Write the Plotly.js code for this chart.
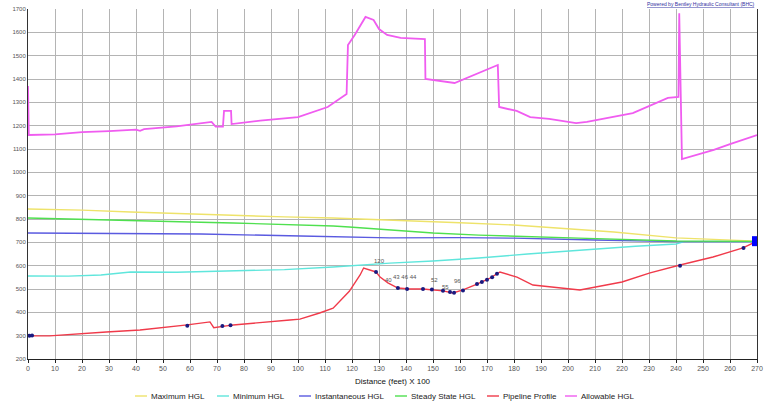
<!DOCTYPE html>
<html>
<head>
<meta charset="utf-8">
<script src="https://cdn.plot.ly/plotly-3.0.1.min.js"></script>
<style>html,body{margin:0;padding:0;background:#fff;}#chart{width:768px;height:404px;}</style>
</head>
<body>
<div id="chart"></div>
<script>
// Allowable HGL
const allowX = [0, 0.3, 10, 20, 30, 40, 41.5, 43, 55, 63, 68, 69.5, 72.2, 72.6, 75.2, 75.4, 86, 100, 111, 118, 118.5, 121, 125, 128, 130, 133, 138, 147, 147.2, 158, 174, 174.5, 181, 186, 193, 203, 207, 224, 230, 237, 240.9, 241.2, 242.2, 254, 260, 270];
const allowY = [1370, 1160, 1163, 1172, 1177, 1183, 1178, 1185, 1197, 1208, 1216, 1196, 1196, 1263, 1263, 1207, 1222, 1237, 1280, 1336, 1546, 1589, 1666, 1653, 1614, 1589, 1576, 1571, 1400, 1383, 1460, 1280, 1263, 1237, 1229, 1211, 1216, 1254, 1284, 1319, 1323, 1682, 1057, 1096, 1121, 1160];
// Maximum HGL
const maxX = [0, 20, 38, 60, 76, 95, 113, 134, 160, 180, 193, 217, 240, 270];
const maxY = [843, 838, 830, 822, 813, 809, 804, 796, 784, 774, 764, 744, 719, 705];
// Steady State HGL
const steadyX = [0, 20, 38, 60, 76, 95, 113, 119, 134, 150, 167, 193, 204, 240, 270];
const steadyY = [804, 798, 791, 787, 783, 777, 770, 766, 753, 740, 731, 720, 718, 706, 704];
// Instantaneous HGL
const instX = [0, 30, 64, 101, 134, 160, 180, 210, 240, 270];
const instY = [740, 739, 736, 727, 719, 720, 718, 710, 703, 703];
// Minimum HGL
const minX = [0, 15, 27, 38, 55, 76, 95, 113, 134, 150, 167, 185, 204, 225, 240, 243, 270];
const minY = [556, 555, 560, 573, 572, 577, 583, 594, 611, 620, 633, 650, 667, 683, 693, 703, 703];
// Pipeline Profile
const pipeX = [0, 8, 29, 41.5, 59, 67.4, 68.8, 72, 76, 97, 100.7, 108, 113, 119, 121, 123, 124.3, 128.9, 130.4, 133.3, 137, 141.5, 146.3, 149.6, 153.7, 157.4, 161.1, 166.3, 171.1, 174.8, 181.1, 187, 193.3, 204.4, 220, 230.4, 241.5, 253.7, 264.8, 268.5, 270];
const pipeY = [299, 299, 316, 324, 346, 359, 334, 340, 346, 367, 371, 397, 418, 490, 525, 560, 590, 573, 551, 526, 504, 500, 500, 496, 492, 483, 496, 521, 547, 573, 551, 517, 509, 496, 530, 569, 603, 637, 676, 697, 705];
// Junction nodes
const nodeX = [0.5, 1.5, 59, 72, 75, 128.9, 137, 140.4, 146.3, 149.6, 153.7, 156.3, 157.8, 161.1, 166.3, 168.1, 170, 171.9, 173.7, 241.5, 265];
const nodeY = [300, 301, 343, 341, 345, 573, 504, 500, 500, 498, 492, 487, 484, 494, 521, 530, 540, 550, 565, 600, 676];
const resX = [270];
const resY = [705];
const nodeLabels = ["120", "40", "43 46 44", "52", "55", "96"];
const nodeLabelX = [130, 133.5, 139.5, 150.7, 154.5, 159];
const nodeLabelY = [620, 540, 551, 539, 509, 534];

const xTicks = [0,10,20,30,40,50,60,70,80,90,100,110,120,130,140,150,160,170,180,190,200,210,220,230,240,250,260,270];
const yTicks = [200,300,400,500,600,700,800,900,1000,1100,1200,1300,1400,1500,1600,1700];

// Legend entries (drawn below the axis title)
const legendNames = ['Maximum HGL', 'Minimum HGL', 'Instantaneous HGL', 'Steady State HGL', 'Pipeline Profile', 'Allowable HGL'];
const legendColors = ['#eee36a', '#5fe6dc', '#5a5ae0', '#4fe04f', '#f03a4a', '#f05cf0'];
const legendSampleStart = [135, 217, 299, 395, 487, 565];

const lw = 1.4;
const traces = [
  {x: maxX, y: maxY, name: legendNames[0], mode: 'lines', line: {color: legendColors[0], width: lw}},
  {x: minX, y: minY, name: legendNames[1], mode: 'lines', line: {color: legendColors[1], width: lw}},
  {x: instX, y: instY, name: legendNames[2], mode: 'lines', line: {color: legendColors[2], width: lw}},
  {x: steadyX, y: steadyY, name: legendNames[3], mode: 'lines', line: {color: legendColors[3], width: lw}},
  {x: pipeX, y: pipeY, name: legendNames[4], mode: 'lines', line: {color: legendColors[4], width: lw}},
  {x: allowX, y: allowY, name: legendNames[5], mode: 'lines', line: {color: legendColors[5], width: 1.8}},
  {x: nodeX, y: nodeY, mode: 'markers', showlegend: false, hoverinfo: 'skip', marker: {color: '#1a1a80', size: 4}},
  {x: resX, y: resY, mode: 'markers', showlegend: false, hoverinfo: 'skip', marker: {color: '#0000ff', size: 10, symbol: 'square'}}
];

const plotL = 28, plotW = 729, plotB = 359, plotH = 350;
const px2paperX = p => (p - plotL) / plotW;
const py2paperY = p => (plotB - p) / plotH;

const annotations = nodeLabels.map((t, i) => ({
  x: nodeLabelX[i], y: nodeLabelY[i], text: t, showarrow: false,
  font: {size: 6, color: '#555', family: 'Liberation Sans'}
}));
annotations.push({
  xref: 'paper', yref: 'paper', x: 1, y: 1.0, xanchor: 'right', yanchor: 'bottom',
  text: '<u>Powered by Bentley Hydraulic Consultant (BHC)</u>', showarrow: false,
  font: {size: 5, color: '#3030a0', family: 'Liberation Sans'}
});
const shapes = [];
const legY = py2paperY(396);
legendNames.forEach((n, i) => {
  const s = legendSampleStart[i];
  shapes.push({type: 'line', xref: 'paper', yref: 'paper', x0: px2paperX(s), x1: px2paperX(s + 12), y0: legY, y1: legY,
    line: {color: legendColors[i], width: 1.4}});
  annotations.push({xref: 'paper', yref: 'paper', x: px2paperX(s + 14), y: legY, xanchor: 'left', yanchor: 'middle',
    text: n, showarrow: false, font: {size: 8, color: '#222', family: 'Liberation Sans'}});
});

const layout = {
  width: 768, height: 404,
  margin: {l: 28, r: 11, t: 9, b: 45, autoexpand: false},
  paper_bgcolor: '#ffffff', plot_bgcolor: '#ffffff',
  font: {family: 'Liberation Sans', size: 7, color: '#444'},
  showlegend: false,
  xaxis: {
    range: [0, 270], tickvals: xTicks, ticktext: xTicks.map(String),
    showgrid: true, gridcolor: '#b4b4b4', gridwidth: 1, zeroline: false,
    showline: true, linecolor: '#222', linewidth: 1, ticks: 'outside', ticklen: 3, tickcolor: '#222',
    tickfont: {size: 7, color: '#555'},
    title: {text: 'Distance (feet) X 100', font: {size: 8, color: '#111'}, standoff: 6}
  },
  yaxis: {
    range: [200, 1700], tickvals: yTicks, ticktext: yTicks.map(String),
    showgrid: true, gridcolor: '#b4b4b4', gridwidth: 1, zeroline: false,
    showline: true, mirror: true, linecolor: '#333', linewidth: 1, ticks: '',
    tickfont: {size: 6, color: '#555'}
  },
  shapes: shapes,
  annotations: annotations
};

Plotly.newPlot('chart', traces, layout, {staticPlot: true, displayModeBar: false});
</script>
</body>
</html>
